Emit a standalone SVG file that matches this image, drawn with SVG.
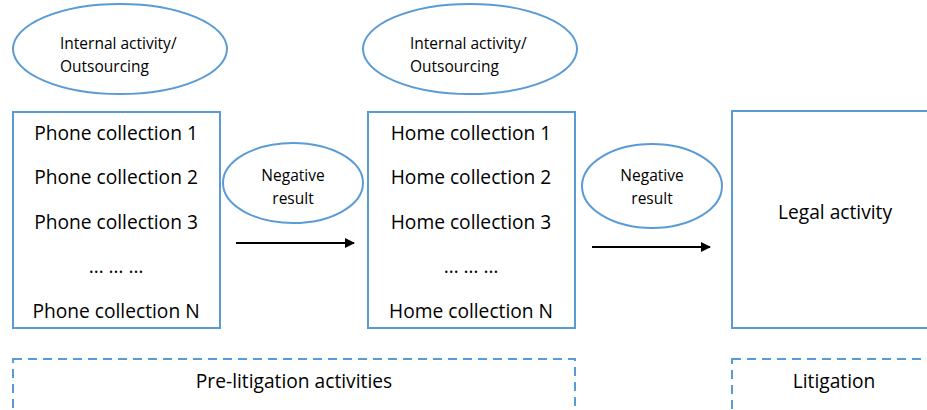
<svg xmlns="http://www.w3.org/2000/svg" width="927" height="410" viewBox="0 0 927 410">
<defs>
<style>
.sh{fill:#fff;stroke:#5B9BD5;stroke-width:2}
.dash{fill:none;stroke:#5B9BD5;stroke-width:2;stroke-dasharray:9 6}
.t{font-family:"Open Sans","Liberation Sans",sans-serif;fill:#000}
.big{font-size:19.2px}
.sm{font-size:15.5px}
.mid{text-anchor:middle}
.arr{stroke:#000;stroke-width:2;fill:none}
</style>
<marker id="ah" viewBox="0 0 10 10" refX="9" refY="5" markerWidth="5" markerHeight="5" markerUnits="strokeWidth" orient="auto">
<path d="M0,0L10,5L0,10Z" fill="#000"/>
</marker>
</defs>
<g id="ellipse-top-1">
<ellipse class="sh" cx="120" cy="49" rx="107" ry="45"/>
<text class="t sm" x="60" y="49">Internal activity/</text>
<text class="t sm" x="60" y="72">Outsourcing</text>
</g>
<g id="ellipse-top-2">
<ellipse class="sh" cx="470" cy="49" rx="107" ry="45"/>
<text class="t sm" x="410" y="49">Internal activity/</text>
<text class="t sm" x="410" y="72">Outsourcing</text>
</g>
<g id="phone-box">
<rect class="sh" x="13" y="112" width="207" height="216"/>
<text class="t big mid" x="116" y="140">Phone collection 1</text>
<text class="t big mid" x="116" y="184">Phone collection 2</text>
<text class="t big mid" x="116" y="229">Phone collection 3</text>
<text class="t big mid" x="116" y="273">… … …</text>
<text class="t big mid" x="116" y="318">Phone collection N</text>
</g>
<g id="home-box">
<rect class="sh" x="368" y="112" width="207" height="216"/>
<text class="t big mid" x="471" y="140">Home collection 1</text>
<text class="t big mid" x="471" y="184">Home collection 2</text>
<text class="t big mid" x="471" y="229">Home collection 3</text>
<text class="t big mid" x="471" y="273">… … …</text>
<text class="t big mid" x="471" y="318">Home collection N</text>
</g>
<g id="legal-box">
<rect class="sh" x="732" y="111" width="200" height="217"/>
<text class="t big mid" x="835" y="219">Legal activity</text>
</g>
<g id="neg-1">
<ellipse class="sh" cx="293" cy="183" rx="70" ry="40"/>
<text class="t sm mid" x="293" y="181">Negative</text>
<text class="t sm mid" x="293" y="204">result</text>
</g>
<g id="neg-2">
<ellipse class="sh" cx="652" cy="186" rx="70" ry="42"/>
<text class="t sm mid" x="652" y="181">Negative</text>
<text class="t sm mid" x="652" y="204">result</text>
</g>
<g id="connectors">
<line class="arr" x1="236" y1="243" x2="354" y2="243" marker-end="url(#ah)"/>
<line class="arr" x1="592" y1="247" x2="710" y2="247" marker-end="url(#ah)"/>
</g>
<g id="pre-litigation">
<rect class="dash" x="13" y="359" width="562" height="70"/>
<text class="t big mid" x="294" y="388">Pre-litigation activities</text>
</g>
<g id="litigation">
<rect class="dash" x="732" y="359" width="210" height="70"/>
<text class="t big mid" x="834" y="388">Litigation</text>
</g>
</svg>
